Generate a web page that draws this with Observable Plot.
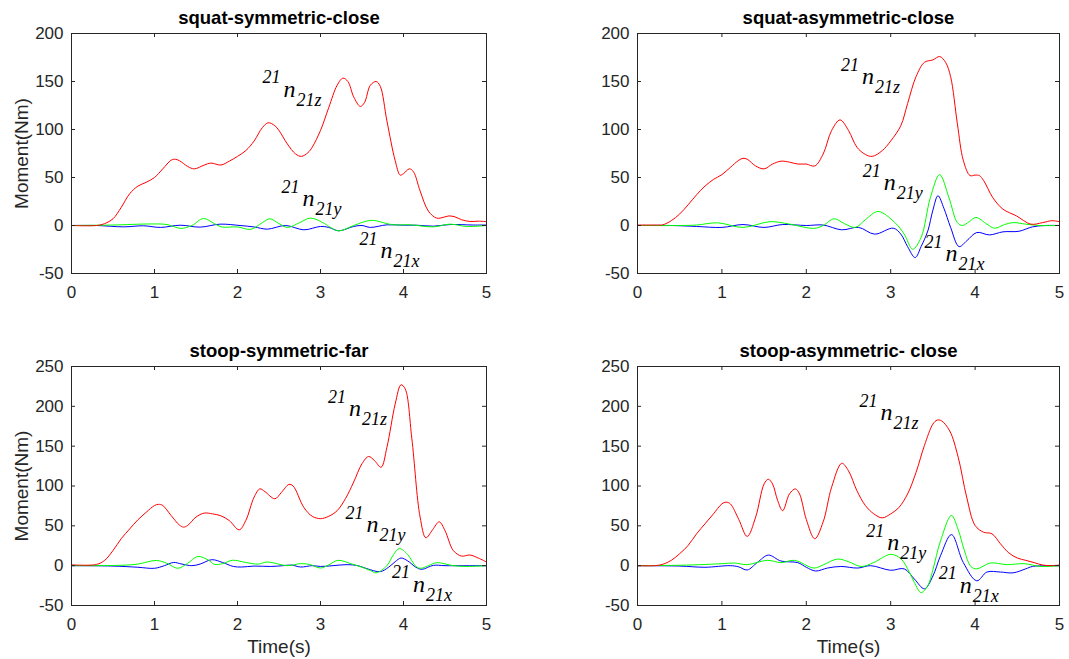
<!DOCTYPE html>
<html><head><meta charset="utf-8">
<script src="https://cdn.jsdelivr.net/npm/d3@7"></script>
<script src="https://cdn.jsdelivr.net/npm/@observablehq/plot@0.6"></script>
<style>
body{margin:0;background:#fff;}
#root{position:relative;width:1069px;height:659px;overflow:hidden;background:#fff;}
#root svg{position:absolute;overflow:visible;}
</style></head><body><div id="root"></div>
<script>
// ---------- data ([time s, moment Nm]) ----------
const xTicks = [0, 1, 2, 3, 4, 5];
const yTicksTop = [-50, 0, 50, 100, 150, 200];
const yTicksBottom = [-50, 0, 50, 100, 150, 200, 250];
const titles = ["squat-symmetric-close", "squat-asymmetric-close", "stoop-symmetric-far", "stoop-asymmetric- close"];

const sqSymZ = [[0,0],[0.3,0],[0.4,2],[0.5,7],[0.6,19],[0.7,33],[0.8,41],[0.9,45],[1.0,50],[1.1,59],[1.2,68],[1.25,69],[1.3,67.5],[1.4,61.5],[1.48,59],[1.6,63],[1.68,65],[1.8,63],[1.9,67],[2.0,72],[2.1,78],[2.2,88],[2.3,102],[2.37,107],[2.45,104],[2.5,99],[2.6,85],[2.7,74.5],[2.77,72],[2.85,76],[2.9,81.5],[3.0,99],[3.1,123],[3.2,146],[3.27,153.5],[3.33,150],[3.4,134],[3.48,124],[3.53,128],[3.6,146],[3.67,150],[3.72,145],[3.8,109],[3.9,67.5],[3.96,52.5],[4.0,54],[4.07,59],[4.12,56],[4.2,36],[4.3,15],[4.4,7.7],[4.5,9],[4.55,10],[4.62,9],[4.7,6],[4.8,4.2],[4.9,4.5],[5.0,4]];
const sqSymY = [[0,0],[0.5,0.5],[0.95,1.6],[1.15,1],[1.32,-3],[1.45,0],[1.59,7.3],[1.72,2],[1.81,-1.5],[2.0,-1.5],[2.16,-4],[2.3,3],[2.39,7],[2.5,2],[2.6,-2],[2.75,3],[2.88,7.7],[3.05,2],[3.12,-2],[3.22,-5.6],[3.4,0],[3.55,4.5],[3.64,5.3],[3.8,2],[3.88,0.7],[4.08,0.7],[4.36,-1.4],[4.56,1.4],[4.76,-1],[5.0,0]];
const sqSymX = [[0,0],[0.3,0],[0.63,-1.4],[0.87,-0.3],[1.07,-2],[1.31,0.3],[1.55,-1.7],[1.79,1.4],[2.03,0],[2.2,-1.5],[2.36,-3.8],[2.58,0],[2.8,-4.5],[3.0,-1],[3.1,-2],[3.22,-5.5],[3.4,-1],[3.5,0],[3.6,-2],[3.8,0.7],[4.0,0.3],[4.16,0.3],[4.36,-0.7],[4.56,1],[4.84,0.5],[5.0,0.5]];

const sqAsymZ = [[0,0.5],[0.25,0.5],[0.3,0.7],[0.4,5],[0.5,12],[0.6,21.6],[0.7,32],[0.8,41],[0.9,48],[1.0,53],[1.1,60.5],[1.2,68],[1.25,70],[1.3,69],[1.4,62],[1.5,59],[1.6,64],[1.7,67],[1.8,66],[1.9,64],[2.0,64],[2.1,62],[2.2,74.5],[2.3,99],[2.4,110],[2.5,99],[2.6,81.5],[2.7,74],[2.78,72],[2.9,78],[3.0,88],[3.12,104],[3.2,127],[3.3,155],[3.4,170],[3.5,172.5],[3.58,176],[3.65,170],[3.71,155],[3.79,106],[3.86,68],[3.94,52],[4.0,52.5],[4.05,52],[4.1,47],[4.21,29],[4.33,17],[4.49,10],[4.66,1.4],[4.8,3],[4.91,5],[5.0,4]];
const sqAsymY = [[0,0],[0.5,0],[0.7,0.5],[0.95,2.8],[1.25,-2],[1.57,4],[1.8,1.5],[2.09,-3],[2.2,0],[2.33,7],[2.45,2],[2.58,-2],[2.7,6],[2.85,14.6],[3.05,3],[3.16,-9],[3.26,-24.7],[3.36,-12.5],[3.47,29],[3.58,53],[3.69,29],[3.79,3],[3.85,0],[3.93,4],[4.01,8.4],[4.14,1.4],[4.23,-2.8],[4.35,1],[4.45,3],[4.6,1.4],[4.76,0],[5.0,0]];
const sqAsymX = [[0,0],[0.4,0],[0.7,-1],[1.0,-2],[1.25,1],[1.5,-2],[1.72,1],[2.0,0],[2.2,0.5],[2.42,-4.5],[2.62,-2],[2.81,-9],[3.03,-2.8],[3.12,-9],[3.2,-22],[3.29,-33.4],[3.36,-22],[3.44,-5.6],[3.5,16],[3.56,31],[3.63,18],[3.71,-2],[3.81,-22],[3.9,-16],[4.02,-7.3],[4.17,-9.8],[4.33,-6.6],[4.52,-6],[4.68,-1.4],[4.83,0],[5.0,0]];

const stSymZ = [[0,1],[0.3,1.5],[0.4,6.7],[0.5,19],[0.6,34],[0.7,46],[0.8,57.6],[0.9,67],[1.0,75.5],[1.05,77],[1.1,75.5],[1.2,63],[1.3,51],[1.35,48.4],[1.4,50.5],[1.5,61],[1.6,66],[1.7,65],[1.8,62.6],[1.9,56.7],[2.02,45],[2.1,56.7],[2.2,86],[2.27,96.4],[2.33,93],[2.45,84],[2.53,92],[2.62,102],[2.67,100],[2.8,73],[2.9,62],[3.0,59],[3.1,62],[3.2,69],[3.3,84],[3.4,105],[3.5,128],[3.58,137],[3.65,132],[3.73,123.5],[3.8,148.5],[3.9,203],[3.97,227],[4.02,222],[4.1,160],[4.2,61],[4.27,35],[4.35,45],[4.43,55],[4.5,44],[4.6,19],[4.7,12],[4.8,13.4],[4.9,9.6],[5.0,4.6]];
const stSymY = [[0,0],[0.6,0.5],[0.8,2],[1.02,6.5],[1.15,3],[1.28,-3.3],[1.4,3],[1.52,11.5],[1.65,7],[1.72,1.7],[1.82,2.5],[1.94,6.8],[2.1,4],[2.25,2],[2.36,4.6],[2.6,0],[2.76,2.5],[2.87,1.5],[3.0,-3],[3.1,1],[3.21,6.7],[3.38,2],[3.5,-2],[3.6,-6],[3.67,-9],[3.8,0],[3.88,14],[3.95,21.5],[4.05,14],[4.15,-1],[4.21,-3.3],[4.3,0],[4.4,3.8],[4.6,0],[4.76,-1],[5.0,0]];
const stSymX = [[0,0],[0.5,-0.5],[0.8,-2],[1.0,-3.3],[1.12,0],[1.23,4],[1.33,2],[1.45,0],[1.55,2],[1.69,7.5],[1.82,4],[1.95,-1],[2.05,-1.7],[2.2,-0.5],[2.4,-1],[2.55,0],[2.65,0.8],[2.76,-1.7],[2.9,0],[3.0,-1],[3.15,0],[3.32,1.3],[3.45,0],[3.56,-3.8],[3.72,-7.5],[3.82,-2],[3.9,5],[3.97,9.6],[4.05,6],[4.15,-2],[4.22,-4.6],[4.36,0.4],[4.5,0],[5.0,0]];

const stAsymZ = [[0,0],[0.2,0],[0.3,1.7],[0.4,6.7],[0.5,15],[0.6,25.4],[0.7,40],[0.8,52.6],[0.9,65],[1.0,77.6],[1.05,79.7],[1.1,77.6],[1.2,58],[1.3,36.7],[1.4,61],[1.5,102.6],[1.55,108.5],[1.6,102.6],[1.66,82],[1.72,69],[1.8,90],[1.87,96.4],[1.92,90],[2.0,58],[2.1,33.8],[2.2,55],[2.3,98.5],[2.42,128.5],[2.5,119],[2.6,94],[2.7,75.5],[2.8,65],[2.9,60],[3.0,65],[3.1,73.4],[3.2,90],[3.3,117],[3.4,151],[3.5,177.7],[3.55,182.7],[3.6,182],[3.7,169],[3.8,136],[3.9,86],[4.0,50.5],[4.1,42],[4.2,40],[4.3,27.5],[4.4,16],[4.5,9.6],[4.6,6.7],[4.7,3.8],[4.8,0.8],[4.9,0],[5.0,0.8]];
const stAsymY = [[0,0],[0.5,0.5],[0.8,1.5],[1.0,2.5],[1.15,3.3],[1.3,1.3],[1.54,6.7],[1.7,3.8],[1.86,6.7],[2.09,-3],[2.2,1],[2.37,8.3],[2.5,5],[2.65,-1],[2.8,4],[3.0,14.2],[3.12,8.8],[3.22,-8],[3.28,-21],[3.36,-33.8],[3.44,-25],[3.5,-5],[3.59,31],[3.72,63],[3.8,45],[3.87,20],[3.95,-1],[4.02,-4],[4.18,3.3],[4.38,1.3],[4.58,2.5],[4.78,-1],[5.0,0]];
const stAsymX = [[0,0],[0.5,-0.5],[0.8,-2],[1.1,0],[1.2,-1.5],[1.3,-5.4],[1.42,4],[1.55,13.3],[1.7,5.8],[1.9,3.8],[2.0,-2],[2.11,-6.7],[2.25,-3],[2.41,-1],[2.61,-3],[2.76,0],[3.0,-5.8],[3.16,-4],[3.28,-16.7],[3.4,-29],[3.5,-13],[3.59,12.5],[3.72,39],[3.86,4],[4.02,-19],[4.14,-8],[4.3,-8],[4.45,-9],[4.6,-4],[4.68,-1],[5.0,0]];

// label anchors: [component, time, moment]
const sqSymLabels = [["z",2.30,142],["y",2.53,28],["x",3.47,-26]];
const sqAsymLabels = [["z",2.41,155],["y",2.67,45],["x",3.40,-29]];
const stSymLabels = [["z",3.09,197],["y",3.30,52],["x",3.86,-23]];
const stAsymLabels = [["z",2.63,192],["y",2.71,29],["x",3.57,-24.5]];

// ---------- layout ----------
const panels = [
  {title: titles[0], z: sqSymZ, y: sqSymY, x: sqSymX, labels: sqSymLabels, yTicks: yTicksTop, ylabel: true, xlabel: false,
   left: 0, top: 0, width: 534, height: 329, mt: 33, mb: 56, ml: 71, mr: 48},
  {title: titles[1], z: sqAsymZ, y: sqAsymY, x: sqAsymX, labels: sqAsymLabels, yTicks: yTicksTop, ylabel: false, xlabel: false,
   left: 534, top: 0, width: 535, height: 329, mt: 33, mb: 56, ml: 103, mr: 10},
  {title: titles[2], z: stSymZ, y: stSymY, x: stSymX, labels: stSymLabels, yTicks: yTicksBottom, ylabel: true, xlabel: true,
   left: 0, top: 329, width: 534, height: 330, mt: 37, mb: 54, ml: 71, mr: 48},
  {title: titles[3], z: stAsymZ, y: stAsymY, x: stAsymX, labels: stAsymLabels, yTicks: yTicksBottom, ylabel: false, xlabel: true,
   left: 534, top: 329, width: 535, height: 330, mt: 37, mb: 54, ml: 103, mr: 10}
];

const ink = "#262626";
const sans = "'Liberation Sans', Arial, Helvetica, sans-serif";
const serif = "'Liberation Serif', 'Times New Roman', serif";
const root = document.getElementById("root");

for (const p of panels) {
  const fw = p.width - p.ml - p.mr;
  const fh = p.height - p.mt - p.mb;
  const yDom = [p.yTicks[0], p.yTicks[p.yTicks.length - 1]];
  const lineOpts = {x: d => d[0], y: d => d[1], strokeWidth: 1, curve: "catmull-rom"};
  const marks = [
    Plot.line(p.x, {...lineOpts, stroke: "#0000ff"}),
    Plot.line(p.y, {...lineOpts, stroke: "#00ff00"}),
    Plot.line(p.z, {...lineOpts, stroke: "#ff0000"}),
    // inward ticks on all four sides
    Plot.tickX(xTicks, {x: d => d, insetTop: fh - 4, stroke: ink}),
    Plot.tickX(xTicks, {x: d => d, insetBottom: fh - 4, stroke: ink}),
    Plot.tickY(p.yTicks, {y: d => d, insetRight: fw - 4, stroke: ink}),
    Plot.tickY(p.yTicks, {y: d => d, insetLeft: fw - 4, stroke: ink}),
    Plot.frame({stroke: ink}),
    Plot.axisX({ticks: xTicks, tickSize: 0, tickPadding: 12, tickFormat: d => String(d), label: null, fontSize: 17, fill: ink}),
    Plot.axisY({ticks: p.yTicks, tickSize: 0, tickPadding: 8, tickFormat: d => String(d), label: null, fontSize: 17, fill: ink}),
    Plot.text([p.title], {frameAnchor: "top", textAnchor: "middle", lineAnchor: "middle", dy: -15.5, fontWeight: "bold", fontSize: 18.5, fill: "#000", fontFamily: sans}),
    // component labels  ^{21}n_{21c}
    Plot.text(p.labels, {x: d => d[1], y: d => d[2], text: () => "21", textAnchor: "start", lineAnchor: "middle", dy: -11.5, fontSize: 18, fontStyle: "italic", fontFamily: serif, fill: "#000"}),
    Plot.text(p.labels, {x: d => d[1], y: d => d[2], text: () => "n", textAnchor: "start", lineAnchor: "middle", dx: 21, fontSize: 24, fontStyle: "italic", fontFamily: serif, fill: "#000"}),
    Plot.text(p.labels, {x: d => d[1], y: d => d[2], text: d => "21" + d[0], textAnchor: "start", lineAnchor: "middle", dx: 34, dy: 11, fontSize: 18, fontStyle: "italic", fontFamily: serif, fill: "#000"})
  ];
  if (p.ylabel) marks.push(Plot.text(["Moment(Nm)"], {frameAnchor: "left", textAnchor: "middle", lineAnchor: "middle", dx: -50, rotate: -90, fontSize: 19, fill: ink, fontFamily: sans}));
  if (p.xlabel) marks.push(Plot.text(["Time(s)"], {frameAnchor: "bottom", textAnchor: "middle", lineAnchor: "middle", dy: 41.5, fontSize: 19, fill: ink, fontFamily: sans}));

  const svg = Plot.plot({
    width: p.width, height: p.height,
    marginTop: p.mt, marginBottom: p.mb, marginLeft: p.ml, marginRight: p.mr,
    x: {domain: [0, 5]},
    y: {domain: yDom},
    style: {fontFamily: sans, fontSize: "17px", color: ink, background: "transparent", overflow: "visible"},
    marks
  });
  svg.style.left = p.left + "px";
  svg.style.top = p.top + "px";
  root.appendChild(svg);
}
</script></body></html>
